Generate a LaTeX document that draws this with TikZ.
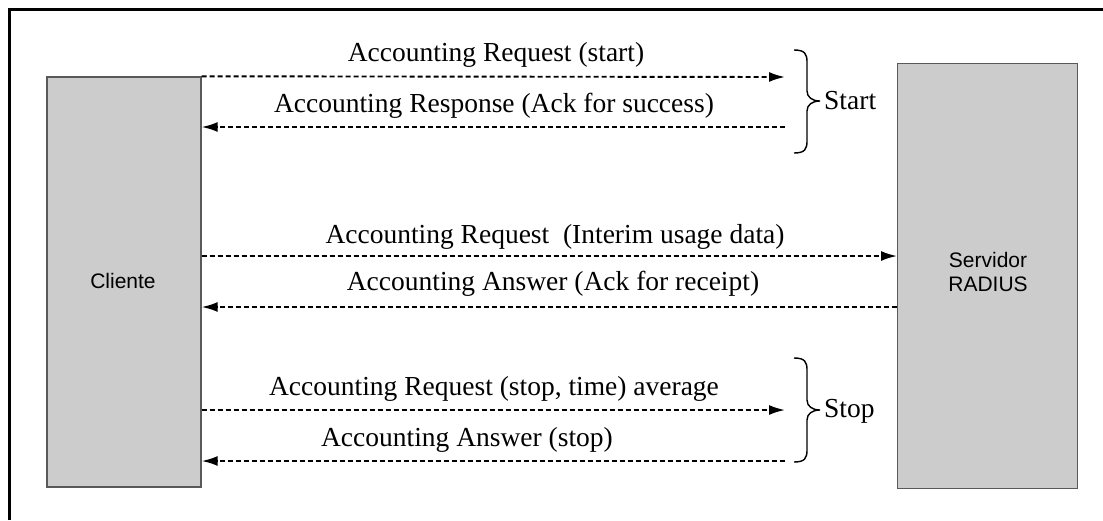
\documentclass[tikz,border=0pt]{standalone}
\usepackage{fontspec}
\setmainfont{Liberation Serif}
\setsansfont{Liberation Sans}
\usetikzlibrary{arrows.meta}
\tikzset{
  party/.style={draw=black!65, line width=1.4pt, fill=black!20, inner sep=0pt},
  partytext/.style={font=\sffamily\fontsize{21}{24}\selectfont, align=center},
  msg/.style={line width=1.9pt, dash pattern=on 5pt off 3pt,
    -{Latex[length=16pt,width=10pt]}},
  lbl/.style={anchor=base, inner sep=0pt, font=\fontsize{27.5}{30}\selectfont},
  grp/.style={line width=1.4pt},
  phase/.style={anchor=west, inner sep=0pt, font=\fontsize{27.5}{30}\selectfont}
}
% curly brace opening to the left, tip to the right:
% #1 = x of the curled ends, #2 = top y, #3 = tip y, #4 = bottom y
\newcommand{\phasebrace}[4]{%
  \draw[grp] (#1,#2) .. controls (#1+11,#2) and (#1+13,#2+4) .. (#1+13,#2+12)
    -- (#1+13,#3-10) .. controls (#1+13,#3-4) and (#1+18,#3) .. (#1+26,#3)
    .. controls (#1+18,#3) and (#1+13,#3+4) .. (#1+13,#3+10)
    -- (#1+13,#4-12) .. controls (#1+13,#4-4) and (#1+11,#4) .. (#1,#4);}
\begin{document}
\begin{tikzpicture}[x=1pt,y=-1pt]
  \useasboundingbox (0,0) rectangle (1103,520);
  \fill[white] (0,0) rectangle (1103,520);
  % outer frame
  \draw[line width=3pt] (9.5,520) -- (9.5,9.5) -- (1103,9.5);

  % the two parties
  \node[party, minimum width=154pt, minimum height=410pt] (cli) at (124,282) {};
  \node[partytext] (clilbl) at (123,281) {Cliente};
  \node[party, minimum width=180pt, minimum height=425pt, anchor=north west]
    (srv) at (897,62.5) {};
  \node[partytext, anchor=north] (srvlbl) at (988,249) {Servidor\\RADIUS};

  % free ends of the short messages
  \coordinate (e1) at (785,77);
  \coordinate (e2) at (785,127);
  \coordinate (e5) at (785,410);
  \coordinate (e6) at (785,461);
  \coordinate (y3) at (0,256);
  \coordinate (y4) at (0,307);

  % messages
  \draw[msg] (cli.north east) -- (e1);
  \draw[msg] (e2) -- (cli.east |- e2);
  \draw[msg] (cli.east |- y3) -- (srv.west |- y3);
  \draw[msg] (srv.west |- y4) -- (cli.east |- y4);
  \draw[msg] (cli.east |- e5) -- (e5);
  \draw[msg] (e6) -- (cli.east |- e6);

  % message labels
  \node[lbl] (l1) at (496,61) {Accounting Request (start)};
  \node[lbl] (l2) at (494,112) {Accounting Response (Ack for success)};
  \node[lbl] (l3) at (555,243) {Accounting Request\ \ (Interim usage data)};
  \node[lbl] (l4) at (553,290) {Accounting Answer (Ack for receipt)};
  \node[lbl] (l5) at (494,395) {Accounting Request (stop, time) average};
  \node[lbl] (l6) at (467,446) {Accounting Answer (stop)};

  % phase braces
  \phasebrace{794}{50}{101}{153}
  \phasebrace{794}{358}{410}{462}
  \node[phase] (start) at (824,101) {Start};
  \node[phase] (stop) at (824,411) {Stop};
\end{tikzpicture}
\end{document}
